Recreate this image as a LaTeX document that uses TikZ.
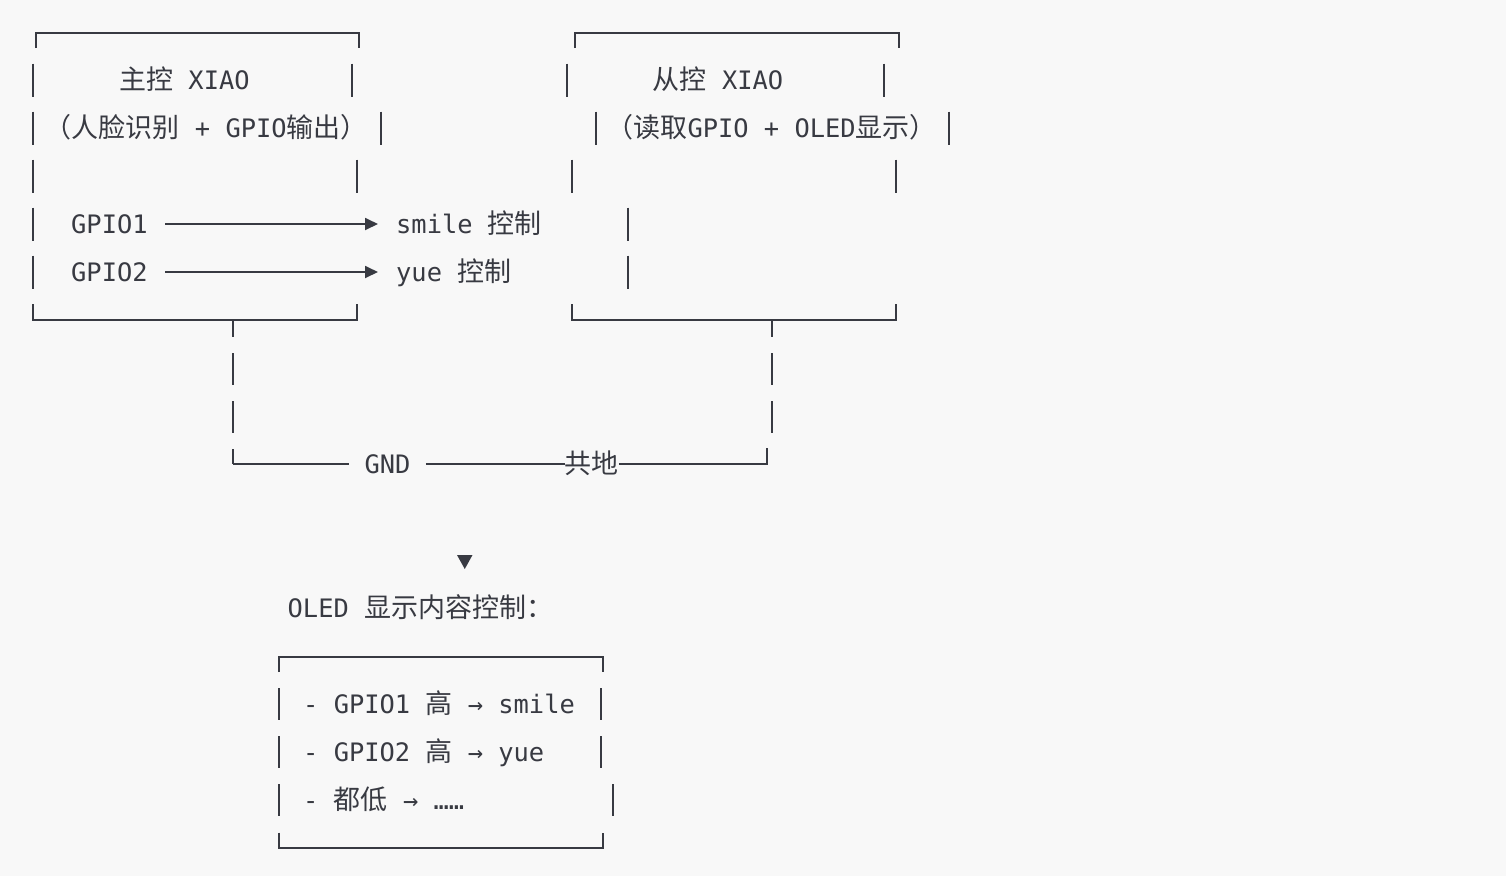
\documentclass[tikz,border=0pt]{standalone}
\usepackage{fontspec}
\setmonofont{DejaVu Sans Mono}
\newfontfamily\cjk{Noto Sans CJK SC}
\usetikzlibrary{arrows.meta}
\definecolor{ink}{HTML}{383A42}
\definecolor{paper}{HTML}{F8F8F8}
\newcommand{\zh}[1]{{\cjk\fontsize{27}{30}\selectfont #1}}
\tikzset{
    boxline/.style={draw=ink, line width=1.8pt},
    txt/.style={anchor=west, inner sep=0pt, text=ink, text height=21pt, text depth=2.6pt,
        font=\ttfamily\fontsize{25.4}{30}\selectfont},
    sig/.style={boxline, -{Triangle[length=13pt 0,width=12pt 0]}, shorten <=17.5pt, shorten >=18pt},
    riser/.style={boxline, dash pattern=on 32pt off 16pt, dash phase=15pt},
}
\begin{document}
\begin{tikzpicture}[x=1pt,y=-1pt]
        \fill[paper] (0,0) rectangle (1506,876);
        \useasboundingbox (0,0) rectangle (1506,876);
        %% master board
        \draw[boxline] (36,48) |- (359,33) -- (359,48);
        \draw[boxline] (33.3,304) |- (357,320) -- (357,304);
        \foreach \y/\x in {80/33.3,80/351.7,128/33.3,128/381,176/33.3,176/357,
                224/33.3,224/628,272/33.3,272/628}
            \draw[boxline] (\x,\y-16.5) -- ++(0,33);
        \node[txt] (mtitle) at (119,80) {\zh{主控} XIAO};
        \node[txt] (mrole) at (44.5,128) {\zh{（人脸识别} + GPIO\zh{输出）}};
        \node[txt] (gpioA) at (71,224) {GPIO1};
        \node[txt] (gpioB) at (71,272) {GPIO2};
        \node[txt] (smile) at (396,224) {smile \zh{控制}};
        \node[txt] (yue) at (396,272) {yue \zh{控制}};
        \draw[sig] (gpioA) -- (smile);
        \draw[sig] (gpioB) -- (yue);
        %% slave board
        \draw[boxline] (575,48) |- (899,33) -- (899,48);
        \draw[boxline] (572.3,304) |- (896,320) -- (896,304);
        \foreach \y/\x in {80/566.7,80/884.3,128/596,128/949.3,176/572.3,176/895.7}
            \draw[boxline] (\x,\y-16.5) -- ++(0,33);
        \node[txt] (stitle) at (652.5,80) {\zh{从控} XIAO};
        \node[txt] (srole) at (606.3,128) {\zh{（读取}GPIO + OLED\zh{显示）}};
        %% common ground
        \coordinate (mtee) at (233.3,320);
        \coordinate (stee) at (772.3,320);
        \coordinate (lc) at (233.3,464);
        \coordinate (rc) at (767,464);
        \node[txt, inner xsep=15.3pt] (gnd) at (349,464) {GND};
        \node[txt] (gongdi) at (564.5,464) {\zh{共地}};
        \draw[riser] (mtee) -- (lc);
        \draw[riser] (stee) -- ++(0,128);
        \draw[boxline] (lc) -- (gnd);
        \draw[boxline] (gnd) -- (gongdi);
        \draw[boxline] (gongdi) -- (rc) -- ++(0,-16);
        %% OLED content
        \fill[ink] (457,555) -- (472.5,555) -- (464.75,569) -- cycle;
        \node[txt] (oled) at (287.5,608) {OLED \zh{显示内容控制：}};
        \draw[boxline] (279.3,672) |- (603.3,656.7) -- (603.3,672);
        \draw[boxline] (279.3,832.7) |- (603.3,848.3) -- (603.3,832.7);
        \foreach \y/\x in {704/279.3,704/600.7,752/279.3,752/600.7,800/279.3,800/613.3}
            \draw[boxline] (\x,\y-16) -- ++(0,32);
        \node[txt] (ruleA) at (303,704) {- GPIO1 \zh{高} → smile};
        \node[txt] (ruleB) at (303,752) {- GPIO2 \zh{高} → yue};
        \node[txt] (ruleC) at (303,800) {- \zh{都低} → ……};
\end{tikzpicture}
\end{document}
